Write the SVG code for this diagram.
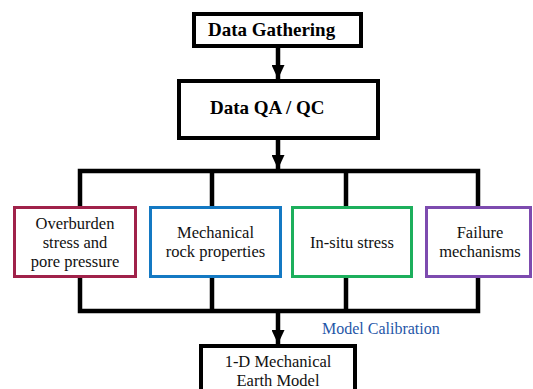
<svg xmlns="http://www.w3.org/2000/svg" width="533" height="389" viewBox="0 0 533 389">
  <defs>
    <marker id="arrow" viewBox="0 0 14 13" refX="14" refY="6.5" markerWidth="14" markerHeight="13" markerUnits="userSpaceOnUse" orient="auto">
      <path d="M0,0 L14,6.5 L0,13 Z" fill="#000"/>
    </marker>
  </defs>
  <style>
    .box-main { fill: #fff; stroke: #000; stroke-width: 4; }
    .box-sub { fill: #fff; stroke-width: 3; }
    .wire { fill: none; stroke: #000; stroke-width: 4.5; }
    .title { font-family: 'Liberation Serif', serif; font-weight: bold; font-size: 19px; fill: #000; }
    .label { font-family: 'Liberation Serif', serif; font-size: 16.5px; fill: #111; text-anchor: middle; }
    .note { font-family: 'Liberation Serif', serif; font-size: 16px; fill: #1F56A8; }
  </style>
  <rect width="533" height="389" fill="#fff"/>

  <!-- connectors: trunk arrows and the two bus lines -->
  <g id="connectors">
    <line class="wire" x1="278" y1="48" x2="278" y2="79" marker-end="url(#arrow)"/>
    <line class="wire" x1="278" y1="140" x2="278" y2="169" marker-end="url(#arrow)"/>
    <path class="wire" d="M80,206 V171 H478 V206"/>
    <line class="wire" x1="212" y1="171" x2="212" y2="206"/>
    <line class="wire" x1="346" y1="171" x2="346" y2="206"/>
    <path class="wire" d="M80,278 V311 H478 V278"/>
    <line class="wire" x1="212" y1="278" x2="212" y2="311"/>
    <line class="wire" x1="346" y1="278" x2="346" y2="311"/>
    <line class="wire" x1="278" y1="311" x2="278" y2="344" marker-end="url(#arrow)"/>
  </g>

  <g id="data-gathering">
    <rect class="box-main" x="194" y="14" width="167" height="32"/>
    <text class="title" x="208" y="36">Data Gathering</text>
  </g>

  <g id="data-qaqc">
    <rect class="box-main" x="179" y="81" width="199" height="57"/>
    <text class="title" x="210" y="114">Data QA / QC</text>
  </g>

  <g id="overburden">
    <rect class="box-sub" x="14.5" y="207.5" width="121" height="69" stroke="#A0224A"/>
    <text class="label" x="75" y="229">Overburden</text>
    <text class="label" x="75" y="248">stress and</text>
    <text class="label" x="75" y="267">pore pressure</text>
  </g>

  <g id="mechanical">
    <rect class="box-sub" x="150.5" y="207.5" width="130" height="69" stroke="#1479C3"/>
    <text class="label" x="215.5" y="238">Mechanical</text>
    <text class="label" x="215.5" y="257">rock properties</text>
  </g>

  <g id="in-situ">
    <rect class="box-sub" x="292.5" y="207.5" width="119" height="69" stroke="#1CAF5C"/>
    <text class="label" x="352" y="248">In-situ stress</text>
  </g>

  <g id="failure">
    <rect class="box-sub" x="426.5" y="207.5" width="104" height="69" stroke="#7D4BAF"/>
    <text class="label" x="480" y="238">Failure</text>
    <text class="label" x="480" y="257">mechanisms</text>
  </g>

  <text class="note" x="322" y="334">Model Calibration</text>

  <g id="mem">
    <rect class="box-main" x="201" y="346" width="154" height="60"/>
    <text class="label" x="278" y="367">1-D Mechanical</text>
    <text class="label" x="278" y="386">Earth Model</text>
  </g>
</svg>
